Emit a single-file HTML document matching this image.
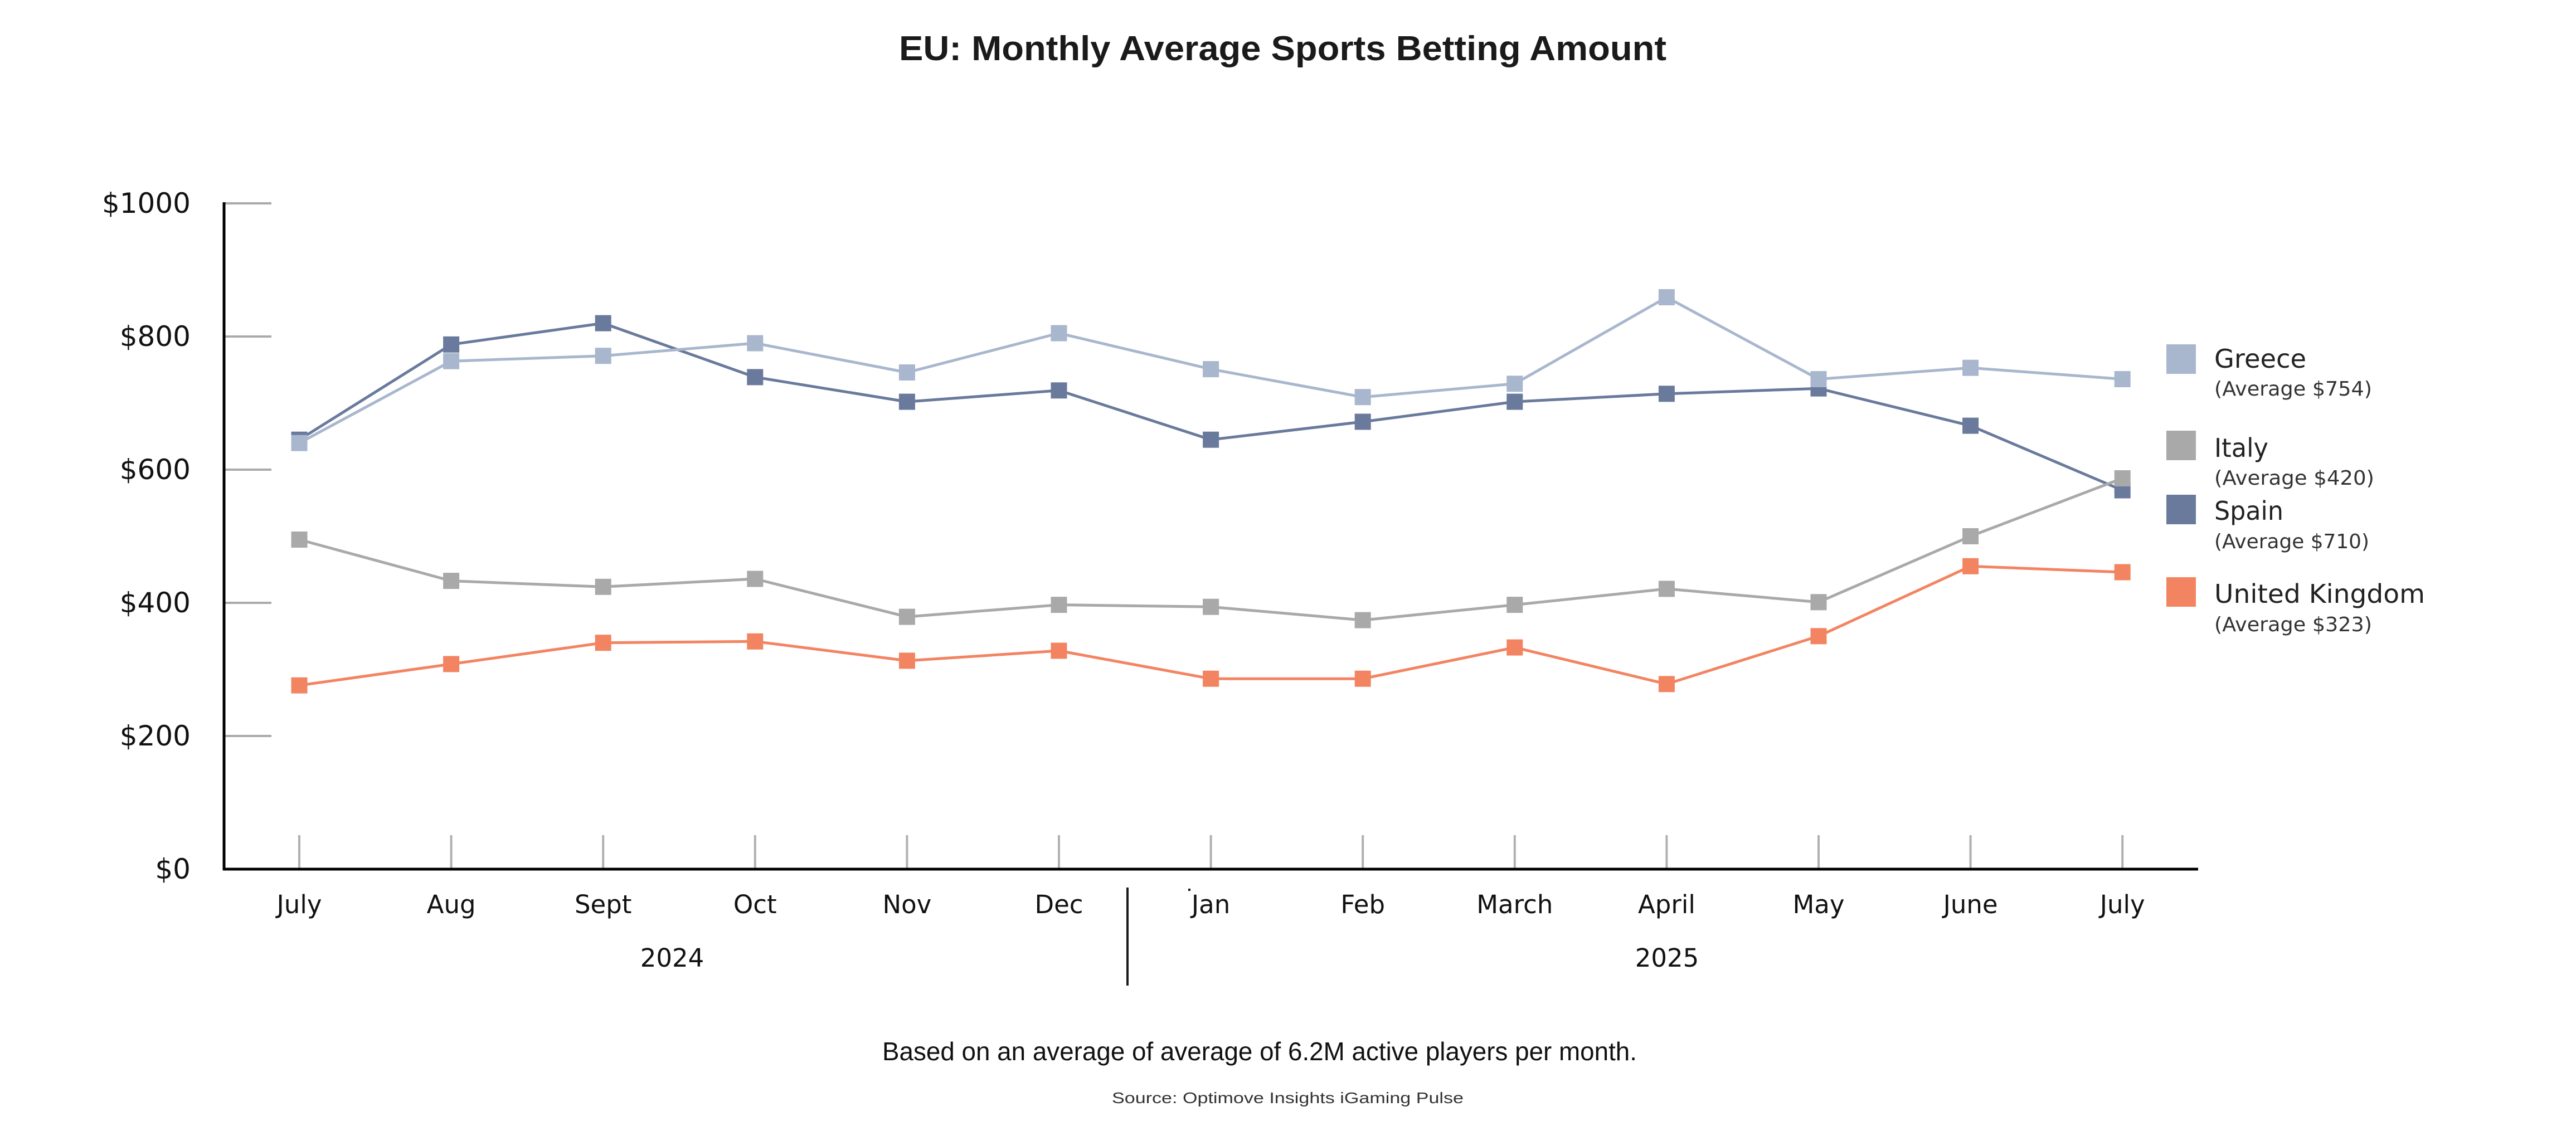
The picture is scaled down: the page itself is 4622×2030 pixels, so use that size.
<!DOCTYPE html>
<html>
<head>
<meta charset="utf-8">
<style>
  html, body { margin: 0; padding: 0; background: #ffffff; }
  svg { display: block; }
  .ylab { font-family: "DejaVu Sans", "Liberation Sans", sans-serif; font-size: 50px; fill: #111; text-anchor: end; }
  .xlab { font-family: "DejaVu Sans", "Liberation Sans", sans-serif; font-size: 45px; fill: #111; text-anchor: middle; }
  .yr { font-family: "DejaVu Sans", "Liberation Sans", sans-serif; font-size: 45px; fill: #111; text-anchor: middle; }
  .lgn { font-family: "DejaVu Sans", "Liberation Sans", sans-serif; font-size: 46px; fill: #222; }
  .lgs { font-family: "DejaVu Sans", "Liberation Sans", sans-serif; font-size: 36px; fill: #333; font-weight: normal; }
  .title { font-family: "Liberation Sans", sans-serif; font-size: 62px; font-weight: bold; fill: #1a1a1a; }
  .foot { font-family: "Liberation Sans", sans-serif; font-size: 46px; fill: #111; }
  .src { font-family: "Liberation Sans", sans-serif; font-size: 28px; fill: #333; }
</style>
</head>
<body>
<svg width="4622" height="2030" viewBox="0 0 4622 2030" xmlns="http://www.w3.org/2000/svg">
  <rect x="0" y="0" width="4622" height="2030" fill="#ffffff"/>

  <!-- Title -->
  <text class="title" x="1613" y="108" textLength="1377" lengthAdjust="spacingAndGlyphs">EU: Monthly Average Sports Betting Amount</text>

  <!-- Y tick lines -->
  <g stroke="#aaaaaa" stroke-width="4">
    <line x1="401" y1="365" x2="487" y2="365"/>
    <line x1="401" y1="604" x2="487" y2="604"/>
    <line x1="401" y1="843" x2="487" y2="843"/>
    <line x1="401" y1="1082" x2="487" y2="1082"/>
    <line x1="401" y1="1321" x2="487" y2="1321"/>
  </g>

  <!-- X tick lines -->
  <g stroke="#b0b0b0" stroke-width="4">
    <line x1="537" y1="1499" x2="537" y2="1560"/>
    <line x1="809.6" y1="1499" x2="809.6" y2="1560"/>
    <line x1="1082.2" y1="1499" x2="1082.2" y2="1560"/>
    <line x1="1354.8" y1="1499" x2="1354.8" y2="1560"/>
    <line x1="1627.4" y1="1499" x2="1627.4" y2="1560"/>
    <line x1="1900" y1="1499" x2="1900" y2="1560"/>
    <line x1="2172.6" y1="1499" x2="2172.6" y2="1560"/>
    <line x1="2445.2" y1="1499" x2="2445.2" y2="1560"/>
    <line x1="2717.8" y1="1499" x2="2717.8" y2="1560"/>
    <line x1="2990.4" y1="1499" x2="2990.4" y2="1560"/>
    <line x1="3263" y1="1499" x2="3263" y2="1560"/>
    <line x1="3535.6" y1="1499" x2="3535.6" y2="1560"/>
    <line x1="3808.2" y1="1499" x2="3808.2" y2="1560"/>
  </g>

  <!-- Axes -->
  <line x1="402" y1="363" x2="402" y2="1562" stroke="#000" stroke-width="5"/>
  <line x1="400" y1="1560" x2="3944" y2="1560" stroke="#000" stroke-width="5"/>

  <!-- Y labels -->
  <text class="ylab" x="342" y="382">$1000</text>
  <text class="ylab" x="342" y="621">$800</text>
  <text class="ylab" x="342" y="860">$600</text>
  <text class="ylab" x="342" y="1099">$400</text>
  <text class="ylab" x="342" y="1338">$200</text>
  <text class="ylab" x="342" y="1577">$0</text>

  <!-- X labels -->
  <text class="xlab" x="537" y="1639">July</text>
  <text class="xlab" x="809.6" y="1639">Aug</text>
  <text class="xlab" x="1082.2" y="1639">Sept</text>
  <text class="xlab" x="1354.8" y="1639">Oct</text>
  <text class="xlab" x="1627.4" y="1639">Nov</text>
  <text class="xlab" x="1900" y="1639">Dec</text>
  <text class="xlab" x="2172.6" y="1639">Jan</text>
  <text class="xlab" x="2445.2" y="1639">Feb</text>
  <text class="xlab" x="2717.8" y="1639">March</text>
  <text class="xlab" x="2990.4" y="1639">April</text>
  <text class="xlab" x="3263" y="1639">May</text>
  <text class="xlab" x="3535.6" y="1639">June</text>
  <text class="xlab" x="3808.2" y="1639">July</text>

  <!-- small dot artifact -->
  <rect x="2132" y="1595" width="4" height="4" fill="#111"/>

  <!-- Year divider -->
  <line x1="2023" y1="1593" x2="2023" y2="1769" stroke="#1a1a1a" stroke-width="4"/>
  <text class="yr" x="1206" y="1735">2024</text>
  <text class="yr" x="2991" y="1735">2025</text>

  <!-- Spain -->
  <g>
    <polyline fill="none" stroke="#6a7a9c" stroke-width="5" stroke-linejoin="round"
      points="537,789.2 809.6,618.3 1082.2,580.1 1354.8,676.9 1627.4,721.1 1900,700.8 2172.6,789.2 2445.2,757.0 2717.8,721.1 2990.4,706.8 3263,697.2 3535.6,764.1 3808.2,880.0"/>
    <g fill="#6a7a9c">
      <rect x="522.5" y="774.7" width="29" height="29"/>
      <rect x="795.1" y="603.8" width="29" height="29"/>
      <rect x="1067.7" y="565.6" width="29" height="29"/>
      <rect x="1340.3" y="662.4" width="29" height="29"/>
      <rect x="1612.9" y="706.6" width="29" height="29"/>
      <rect x="1885.5" y="686.3" width="29" height="29"/>
      <rect x="2158.1" y="774.7" width="29" height="29"/>
      <rect x="2430.7" y="742.5" width="29" height="29"/>
      <rect x="2703.3" y="706.6" width="29" height="29"/>
      <rect x="2975.9" y="692.3" width="29" height="29"/>
      <rect x="3248.5" y="682.7" width="29" height="29"/>
      <rect x="3521.1" y="749.6" width="29" height="29"/>
      <rect x="3793.7" y="865.5" width="29" height="29"/>
    </g>
  </g>

  <!-- Greece -->
  <g>
    <polyline fill="none" stroke="#a8b7cd" stroke-width="5" stroke-linejoin="round"
      points="537,795.2 809.6,648.2 1082.2,638.7 1354.8,616.0 1627.4,668.5 1900,598.0 2172.6,662.6 2445.2,712.7 2717.8,688.8 2990.4,533.5 3263,680.5 3535.6,660.2 3808.2,680.5"/>
    <g fill="#a8b7cd">
      <rect x="522.5" y="780.7" width="29" height="29"/>
      <rect x="795.1" y="633.7" width="29" height="29"/>
      <rect x="1067.7" y="624.2" width="29" height="29"/>
      <rect x="1340.3" y="601.5" width="29" height="29"/>
      <rect x="1612.9" y="654.0" width="29" height="29"/>
      <rect x="1885.5" y="583.5" width="29" height="29"/>
      <rect x="2158.1" y="648.1" width="29" height="29"/>
      <rect x="2430.7" y="698.2" width="29" height="29"/>
      <rect x="2703.3" y="674.3" width="29" height="29"/>
      <rect x="2975.9" y="519.0" width="29" height="29"/>
      <rect x="3248.5" y="666.0" width="29" height="29"/>
      <rect x="3521.1" y="645.7" width="29" height="29"/>
      <rect x="3793.7" y="666.0" width="29" height="29"/>
    </g>
  </g>

  <!-- Italy -->
  <g>
    <polyline fill="none" stroke="#a9a9a9" stroke-width="5" stroke-linejoin="round"
      points="537,968.5 809.6,1042.6 1082.2,1053.3 1354.8,1039.0 1627.4,1107.1 1900,1085.6 2172.6,1089.2 2445.2,1113.1 2717.8,1085.6 2990.4,1056.9 3263,1080.8 3535.6,962.5 3808.2,858.5"/>
    <g fill="#a9a9a9">
      <rect x="522.5" y="954.0" width="29" height="29"/>
      <rect x="795.1" y="1028.1" width="29" height="29"/>
      <rect x="1067.7" y="1038.8" width="29" height="29"/>
      <rect x="1340.3" y="1024.5" width="29" height="29"/>
      <rect x="1612.9" y="1092.6" width="29" height="29"/>
      <rect x="1885.5" y="1071.1" width="29" height="29"/>
      <rect x="2158.1" y="1074.7" width="29" height="29"/>
      <rect x="2430.7" y="1098.6" width="29" height="29"/>
      <rect x="2703.3" y="1071.1" width="29" height="29"/>
      <rect x="2975.9" y="1042.4" width="29" height="29"/>
      <rect x="3248.5" y="1066.3" width="29" height="29"/>
      <rect x="3521.1" y="948.0" width="29" height="29"/>
      <rect x="3793.7" y="844.0" width="29" height="29"/>
    </g>
  </g>

  <!-- United Kingdom -->
  <g>
    <polyline fill="none" stroke="#f38462" stroke-width="5" stroke-linejoin="round"
      points="537,1230.2 809.6,1191.9 1082.2,1153.7 1354.8,1151.3 1627.4,1185.9 1900,1168.0 2172.6,1218.2 2445.2,1218.2 2717.8,1162.1 2990.4,1227.8 3263,1141.8 3535.6,1016.3 3808.2,1027.0"/>
    <g fill="#f38462">
      <rect x="522.5" y="1215.7" width="29" height="29"/>
      <rect x="795.1" y="1177.4" width="29" height="29"/>
      <rect x="1067.7" y="1139.2" width="29" height="29"/>
      <rect x="1340.3" y="1136.8" width="29" height="29"/>
      <rect x="1612.9" y="1171.4" width="29" height="29"/>
      <rect x="1885.5" y="1153.5" width="29" height="29"/>
      <rect x="2158.1" y="1203.7" width="29" height="29"/>
      <rect x="2430.7" y="1203.7" width="29" height="29"/>
      <rect x="2703.3" y="1147.6" width="29" height="29"/>
      <rect x="2975.9" y="1213.3" width="29" height="29"/>
      <rect x="3248.5" y="1127.3" width="29" height="29"/>
      <rect x="3521.1" y="1001.8" width="29" height="29"/>
      <rect x="3793.7" y="1012.5" width="29" height="29"/>
    </g>
  </g>

  <!-- Legend -->
  <rect x="3887" y="618" width="53" height="53" fill="#a8b7cd"/>
  <text class="lgn" x="3973" y="660" textLength="165" lengthAdjust="spacingAndGlyphs">Greece</text>
  <text class="lgs" x="3973" y="710" textLength="283" lengthAdjust="spacingAndGlyphs">(Average $754)</text>

  <rect x="3887" y="773" width="53" height="53" fill="#a9a9a9"/>
  <text class="lgn" x="3973" y="820" textLength="97" lengthAdjust="spacingAndGlyphs">Italy</text>
  <text class="lgs" x="3973" y="870" textLength="287" lengthAdjust="spacingAndGlyphs">(Average $420)</text>

  <rect x="3887" y="888" width="53" height="53" fill="#6a7a9c"/>
  <text class="lgn" x="3973" y="933" textLength="124" lengthAdjust="spacingAndGlyphs">Spain</text>
  <text class="lgs" x="3973" y="984" textLength="278" lengthAdjust="spacingAndGlyphs">(Average $710)</text>

  <rect x="3887" y="1036" width="53" height="53" fill="#f38462"/>
  <text class="lgn" x="3973" y="1082" textLength="378" lengthAdjust="spacingAndGlyphs">United Kingdom</text>
  <text class="lgs" x="3973" y="1133" textLength="283" lengthAdjust="spacingAndGlyphs">(Average $323)</text>

  <!-- Footer -->
  <text class="foot" x="1583" y="1903" textLength="1354" lengthAdjust="spacingAndGlyphs">Based on an average of average of 6.2M active players per month.</text>
  <text class="src" x="1995" y="1980" textLength="631" lengthAdjust="spacingAndGlyphs">Source: Optimove Insights iGaming Pulse</text>
</svg>
</body>
</html>
